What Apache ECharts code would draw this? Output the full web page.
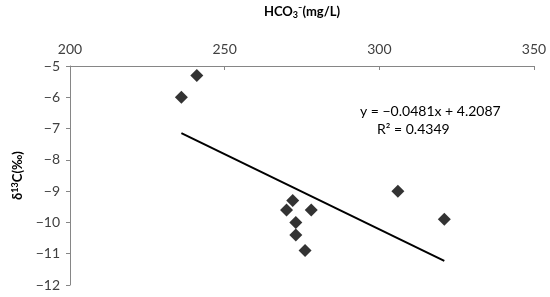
<!DOCTYPE html>
<html>
<head>
<meta charset="utf-8">
<script src="https://cdn.jsdelivr.net/npm/echarts@6/dist/echarts.min.js"></script>
<style>
  html, body { margin: 0; padding: 0; background: #fff; }
  #chart { width: 550px; height: 297px; }
</style>
</head>
<body>
<div id="chart"></div>
<script>
// 数据
const hco3 = [241, 236, 272, 270, 278, 273, 273, 276, 306, 321];
const d13c = [-5.3, -6.0, -9.3, -9.6, -9.6, -10.0, -10.4, -10.9, -9.0, -9.9];
const slope = -0.0481;
const intercept = 4.2087;
const eqText = 'y = −0.0481x + 4.2087';
const r2Text = 'R² = 0.4349';

const FONT = 'Lato';
const minus = v => String(v).replace('-', '−');

function init() {
    const chart = echarts.init(document.getElementById('chart'));
    const pts = hco3.map((x, i) => [x, d13c[i]]);
    const xMin = Math.min(...hco3);
    const xMax = Math.max(...hco3);
    const trend = [[xMin, slope * xMin + intercept], [xMax, slope * xMax + intercept]];

    chart.setOption({
        animation: false,
        grid: { left: 70, top: 59, right: 16, bottom: 12 },
        xAxis: {
            type: 'value', position: 'top',
            min: 200, max: 350, interval: 50,
            name: '{b|HCO}{s|3}{b|⁻(mg/L)}',
            nameLocation: 'middle', nameGap: 46,
            nameTextStyle: {
                rich: {
                    b: { fontFamily: FONT, fontWeight: 'bold', fontSize: 13, color: '#000' },
                    s: { fontFamily: FONT, fontWeight: 'bold', fontSize: 9, color: '#000', padding: [8, 0, 0, 0] }
                }
            },
            axisLine: { onZero: false, lineStyle: { color: '#868686', width: 1 } },
            axisTick: { inside: true, length: 4, lineStyle: { color: '#868686' } },
            axisLabel: { fontFamily: FONT, fontSize: 14, color: '#404040', margin: 10 },
            splitLine: { show: false }
        },
        yAxis: {
            type: 'value',
            min: -12, max: -5, interval: 1,
            name: '{b|δ}{s|13}{b|C(‰)}',
            nameLocation: 'middle', nameGap: 44, nameRotate: 90,
            nameTextStyle: {
                rich: {
                    b: { fontFamily: FONT, fontWeight: 'bold', fontSize: 13, color: '#000' },
                    s: { fontFamily: FONT, fontWeight: 'bold', fontSize: 9, color: '#000', padding: [0, 0, 6, 0] }
                }
            },
            axisLine: { show: true, onZero: false, lineStyle: { color: '#868686', width: 1 } },
            axisTick: { show: true, length: 4, lineStyle: { color: '#868686' } },
            axisLabel: { fontFamily: FONT, fontSize: 14, color: '#404040', margin: 10, formatter: minus },
            splitLine: { show: false }
        },
        series: [
            {
                type: 'scatter',
                data: pts,
                symbol: 'path://M0,-1L1,0L0,1L-1,0Z',
                symbolSize: 13,
                itemStyle: { color: '#000' },
                z: 3
            },
            {
                type: 'line',
                data: trend,
                showSymbol: false,
                lineStyle: { color: '#000', width: 2 },
                z: 2
            }
        ],
        graphic: [
            {
                type: 'text', left: 360, top: 104,
                style: { text: eqText, fontFamily: FONT, fontSize: 14, fill: '#000' }
            },
            {
                type: 'text', left: 377, top: 122,
                style: { text: r2Text, fontFamily: FONT, fontSize: 14, fill: '#000' }
            }
        ]
    });
}

window.addEventListener('DOMContentLoaded', init);
</script>
</body>
</html>
